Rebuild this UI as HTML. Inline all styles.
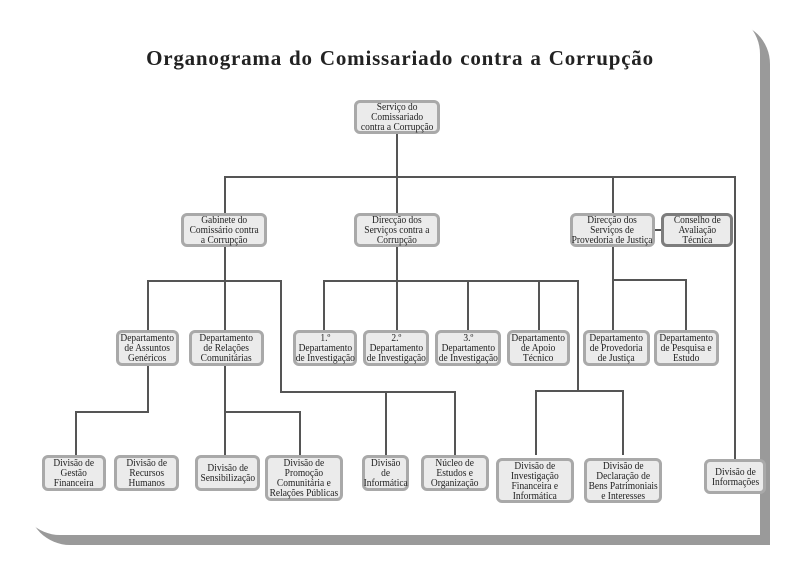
<!DOCTYPE html>
<html><head><meta charset="utf-8"><style>
body{margin:0;width:800px;height:568px;background:#fff;position:relative;overflow:hidden;font-family:"Liberation Serif",serif}
.sh{position:absolute;left:28px;top:22px;width:742px;height:523px;background:#9a9a9a;border-radius:0 42px 0 42px}
.card{position:absolute;left:18px;top:12px;width:742px;height:523px;background:#fff;border-radius:0 42px 0 42px}
h1{position:absolute;left:0;width:800px;top:46px;margin:0;text-align:center;font-size:21px;font-weight:bold;color:#222;letter-spacing:0.8px;word-spacing:1px}
.b{position:absolute;box-sizing:border-box;background:#ebebeb;border:3px solid #a9a9a9;border-radius:6px;display:flex;align-items:center;justify-content:center;text-align:center;font-size:11px;line-height:10px;color:#222;white-space:nowrap}
.b span{display:inline-block;transform:scaleX(0.86)}
.d{border-color:#7d7d7d}
.h,.v{position:absolute;background:#555}
.h{height:2px}.v{width:2px}
</style></head><body>
<div class="sh"></div><div class="card"></div>
<h1>Organograma do Comissariado contra a Corrupção</h1>
<div class="v" style="left:396px;top:133px;height:80px"></div>
<div class="h" style="left:224px;top:176px;width:512px"></div>
<div class="v" style="left:224px;top:176px;height:37px"></div>
<div class="v" style="left:612px;top:176px;height:37px"></div>
<div class="v" style="left:734px;top:176px;height:283px"></div>
<div class="h" style="left:654px;top:229px;width:8px"></div>
<div class="v" style="left:224px;top:246px;height:209px"></div>
<div class="h" style="left:147px;top:280px;width:135px"></div>
<div class="v" style="left:147px;top:280px;height:50px"></div>
<div class="v" style="left:280px;top:280px;height:113px"></div>
<div class="h" style="left:280px;top:391px;width:176px"></div>
<div class="v" style="left:385px;top:391px;height:64px"></div>
<div class="v" style="left:454px;top:391px;height:64px"></div>
<div class="v" style="left:396px;top:246px;height:84px"></div>
<div class="h" style="left:323px;top:280px;width:256px"></div>
<div class="v" style="left:323px;top:280px;height:50px"></div>
<div class="v" style="left:467px;top:280px;height:50px"></div>
<div class="v" style="left:538px;top:280px;height:50px"></div>
<div class="v" style="left:577px;top:280px;height:112px"></div>
<div class="h" style="left:535px;top:390px;width:89px"></div>
<div class="v" style="left:535px;top:390px;height:65px"></div>
<div class="v" style="left:622px;top:390px;height:65px"></div>
<div class="v" style="left:612px;top:246px;height:84px"></div>
<div class="h" style="left:612px;top:279px;width:75px"></div>
<div class="v" style="left:685px;top:279px;height:51px"></div>
<div class="v" style="left:147px;top:365px;height:47px"></div>
<div class="h" style="left:75px;top:411px;width:74px"></div>
<div class="v" style="left:75px;top:411px;height:44px"></div>
<div class="h" style="left:224px;top:411px;width:77px"></div>
<div class="v" style="left:299px;top:411px;height:44px"></div>
<div class="b" style="left:354px;top:100px;width:86px;height:34px"><span>Serviço do<br>Comissariado<br>contra a Corrupção</span></div>
<div class="b" style="left:181px;top:213px;width:86px;height:34px"><span>Gabinete do<br>Comissário contra<br>a Corrupção</span></div>
<div class="b" style="left:354px;top:213px;width:86px;height:34px"><span>Direcção dos<br>Serviços contra a<br>Corrupção</span></div>
<div class="b" style="left:570px;top:213px;width:85px;height:34px"><span>Direcção dos<br>Serviços de<br>Provedoria de Justiça</span></div>
<div class="b d" style="left:661px;top:213px;width:72px;height:34px"><span>Conselho de<br>Avaliação<br>Técnica</span></div>
<div class="b" style="left:116px;top:330px;width:63px;height:36px"><span>Departamento<br>de Assuntos<br>Genéricos</span></div>
<div class="b" style="left:189px;top:330px;width:75px;height:36px"><span>Departamento<br>de Relações<br>Comunitárias</span></div>
<div class="b" style="left:293px;top:330px;width:64px;height:36px"><span>1.º<br>Departamento<br>de Investigação</span></div>
<div class="b" style="left:363px;top:330px;width:66px;height:36px"><span>2.º<br>Departamento<br>de Investigação</span></div>
<div class="b" style="left:435px;top:330px;width:66px;height:36px"><span>3.º<br>Departamento<br>de Investigação</span></div>
<div class="b" style="left:507px;top:330px;width:63px;height:36px"><span>Departamento<br>de Apoio<br>Técnico</span></div>
<div class="b" style="left:583px;top:330px;width:67px;height:36px"><span>Departamento<br>de Provedoria<br>de Justiça</span></div>
<div class="b" style="left:654px;top:330px;width:65px;height:36px"><span>Departamento<br>de Pesquisa e<br>Estudo</span></div>
<div class="b" style="left:42px;top:455px;width:64px;height:36px"><span>Divisão de<br>Gestão<br>Financeira</span></div>
<div class="b" style="left:114px;top:455px;width:65px;height:36px"><span>Divisão de<br>Recursos<br>Humanos</span></div>
<div class="b" style="left:195px;top:455px;width:65px;height:36px"><span>Divisão de<br>Sensibilização</span></div>
<div class="b" style="left:265px;top:455px;width:78px;height:46px"><span>Divisão de<br>Promoção<br>Comunitária e<br>Relações Públicas</span></div>
<div class="b" style="left:362px;top:455px;width:47px;height:36px"><span>Divisão<br>de<br>Informática</span></div>
<div class="b" style="left:421px;top:455px;width:68px;height:36px"><span>Núcleo de<br>Estudos e<br>Organização</span></div>
<div class="b" style="left:496px;top:458px;width:78px;height:45px"><span>Divisão de<br>Investigação<br>Financeira e<br>Informática</span></div>
<div class="b" style="left:584px;top:458px;width:78px;height:45px"><span>Divisão de<br>Declaração de<br>Bens Patrimoniais<br>e Interesses</span></div>
<div class="b" style="left:704px;top:459px;width:62px;height:35px"><span>Divisão de<br>Informações</span></div>
</body></html>
